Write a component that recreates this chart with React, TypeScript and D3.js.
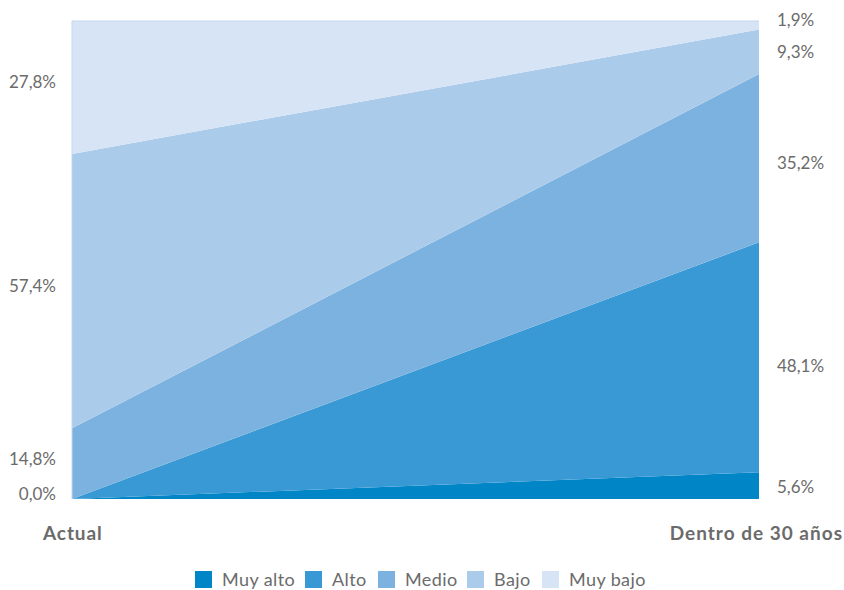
import React from "react";
import * as d3 from "d3";

const periods = ["Actual", "Dentro de 30 años"];
const seriesNames = ["Muy alto", "Alto", "Medio", "Bajo", "Muy bajo"];
const muyAlto = [0.0, 5.6];
const alto = [0.0, 48.1];
const medio = [14.8, 35.2];
const bajo = [57.4, 9.3];
const muyBajo = [27.8, 1.9];
const colors = ["#0085c7", "#3899d5", "#7bb2df", "#abcbea", "#d7e4f5"];

const W = 844, H = 590;
const M = { left: 72, right: 759, top: 21, bottom: 499 };

export default function App() {
  const values = [muyAlto, alto, medio, bajo, muyBajo];
  const rows = periods.map((p, i) => {
    const r: any = { period: p };
    seriesNames.forEach((s, k) => (r[s] = values[k][i]));
    return r;
  });
  const stack = d3.stack<any>().keys(seriesNames)(rows);
  const x = d3.scalePoint<string>().domain(periods).range([M.left, M.right]);
  const y = d3.scaleLinear().domain([0, 100]).range([M.bottom, M.top]);
  const area = d3
    .area<any>()
    .x((d) => x(d.data.period)!)
    .y0((d) => y(d[0]))
    .y1((d) => y(Math.min(d[1], 100)));
  const font = "Lato, 'Open Sans', sans-serif";
  const fmt = (v: number) => v.toFixed(1).replace(".", ",") + "%";
  const legendX = [195, 305, 378, 467, 542];
  const grey = "#6b6b6b";
  return (
    <svg width={W} height={H} style={{ position: "absolute", left: 0, top: 0 }}>
      {stack.map((s, k) => (
        <path key={k} d={area(s) || ""} fill={colors[k]} />
      ))}
      <line x1={M.left} x2={M.right} y1={M.top} y2={M.top} stroke="#c3d6ef" strokeWidth={1} />
      <line x1={M.left} x2={M.left} y1={M.top} y2={M.bottom} stroke="#c3d6ef" strokeWidth={1} />
      {/* left labels */}
      {stack.map((s, k) => {
        const d = s[0];
        if (k === 0) return null;
        const v = d[1] - d[0];
        const yy = k === 1 ? y(0) - 5 : (y(d[0]) + y(Math.min(d[1], 100))) / 2 - 5;
        return (
          <text key={"l" + k} x={56} y={yy} dy="0.35em" textAnchor="end" fontFamily={font} fontSize={17} fill={grey}>
            {k === 1 ? fmt(muyAlto[0] + alto[0]) : fmt(v)}
          </text>
        );
      })}
      {/* right labels */}
      {stack.map((s, k) => {
        const d = s[1];
        const v = d[1] - d[0];
        let yy = (y(d[0]) + y(Math.min(d[1], 100))) / 2;
        if (k === 4) yy = 20;
        else if (k === 2) yy += 5;
        else if (k === 1) yy += 9;
        else if (k === 0) yy += 1;
        return (
          <text key={"r" + k} x={777} y={yy} dy="0.35em" textAnchor="start" fontFamily={font} fontSize={17} fill={grey}>
            {fmt(v)}
          </text>
        );
      })}
      <text x={43} y={533} dy="0.35em" fontFamily={font} fontSize={19} fontWeight={700} letterSpacing={0.9} fill={grey}>
        {periods[0]}
      </text>
      <text x={843} y={533} dy="0.35em" textAnchor="end" fontFamily={font} fontSize={19} fontWeight={700} letterSpacing={1} fill={grey}>
        {periods[1]}
      </text>
      {seriesNames.map((s, k) => (
        <g key={"lg" + k} transform={`translate(${legendX[k]},571)`}>
          <rect width={17} height={17} fill={colors[k]} />
          <text x={27} y={9} dy="0.35em" fontFamily={font} fontSize={18} letterSpacing={0.4} fill={grey}>
            {s}
          </text>
        </g>
      ))}
    </svg>
  );
}
